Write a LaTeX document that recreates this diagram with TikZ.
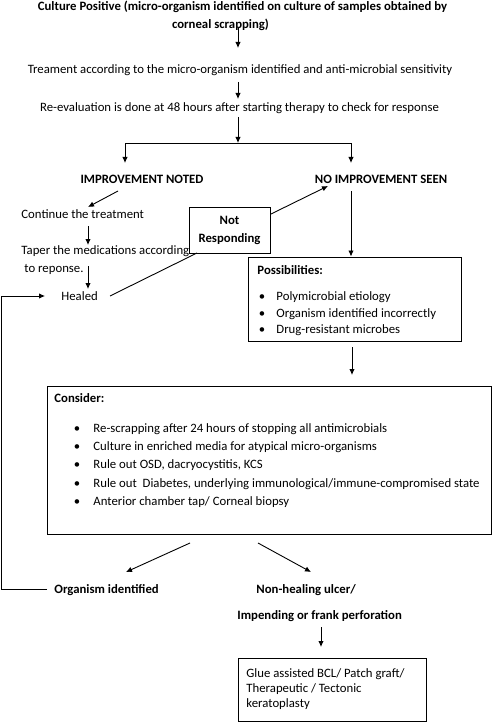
\documentclass[tikz,border=0pt]{standalone}
\usepackage{fontspec}
\setmainfont{Carlito}
\usetikzlibrary{arrows.meta}
\begin{document}
\begin{tikzpicture}[x=1pt,y=-1pt,line width=0.9pt,
  txt/.style={inner sep=0pt,font=\fontsize{12.75}{18}\selectfont},
  btxt/.style={inner sep=0pt,font=\fontsize{12.75}{18}\selectfont\bfseries},
  arr/.style={-{Latex[length=6pt,width=5.5pt]}},
  boxed/.style={draw,line width=1pt,inner sep=0pt}]
\useasboundingbox (0,0) rectangle (492,722);
% texts
\node[btxt,anchor=base] (t1) at (242.5,11) {Culture Positive (micro-organism identified on culture of samples obtained by};
\node[btxt,anchor=base] (t2) at (220.5,29) {corneal scrapping)};
\node[txt,anchor=base] (treat) at (240,74) {Treament according to the micro-organism identified and anti-microbial sensitivity};
\node[txt,anchor=base] (reeval) at (239.5,112) {Re-evaluation is done at 48 hours after starting therapy to check for response};
\node[btxt,anchor=base] (imp) at (142,183) {IMPROVEMENT NOTED};
\node[btxt,anchor=base] (noimp) at (381,183) {NO IMPROVEMENT SEEN};
\node[txt,anchor=base west] (cont) at (21,218) {Continue the treatment};
\node[txt,anchor=base west] (taper1) at (21,254) {Taper the medications according};
\node[txt,anchor=base west] (taper2) at (24,272) {to reponse.};
\node[txt,anchor=base west] (healed) at (61,300) {Healed};
\node[boxed,btxt,draw,line width=1pt,align=center,minimum width=81pt,minimum height=46pt] (notresp) at (229.5,230) {Not\\Responding};
% possibilities box
\node[boxed,minimum width=213pt,minimum height=84pt] (poss) at (354.5,299) {};
\node[btxt,anchor=base west] (posst) at (257,274) {Possibilities:};
\foreach \y/\t [count=\i] in {296/{Polymicrobial etiology},313/{Organism identified incorrectly},329/{Drug-resistant microbes}}{
  \node[txt,anchor=base] (pb\i) at (262,\y+4) {\textbullet};
  \node[txt,anchor=base west] (pi\i) at (276,\y+4) {\t};
}
% consider box
\node[boxed,minimum width=444pt,minimum height=148pt] (cons) at (269,460) {};
\node[btxt,anchor=base west] (const) at (54,402) {Consider:};
\foreach \y/\t [count=\i] in {428/{Re-scrapping after 24 hours of stopping all antimicrobials},446/{Culture in enriched media for atypical micro-organisms},464/{Rule out OSD, dacryocystitis, KCS},483/{Rule out\ \ Diabetes, underlying immunological/immune-compromised state},501/{Anterior chamber tap/ Corneal biopsy}}{
  \node[txt,anchor=base] (cb\i) at (77,\y+4) {\textbullet};
  \node[txt,anchor=base west] (ci\i) at (93,\y+4) {\t};
}
\node[btxt,anchor=base west] (orgid) at (54,593) {Organism identified};
\node[btxt,anchor=base west] (nonheal) at (256,593) {Non-healing ulcer/};
\node[btxt,anchor=base west] (impend) at (237,619) {Impending or frank perforation};
\node[boxed,minimum width=188pt,minimum height=63pt] (glue) at (332,690) {};
\node[txt,anchor=base west] (g1) at (246,677) {Glue assisted BCL/ Patch graft/};
\node[txt,anchor=base west] (g2) at (246,692) {Therapeutic / Tectonic};
\node[txt,anchor=base west] (g3) at (246,707) {keratoplasty};
% connector coordinates
\coordinate (a1s) at (238,28); \coordinate (a1e) at (238,48);
\coordinate (a2s) at (238,82); \coordinate (a2e) at (238,99);
\coordinate (a3s) at (238,117); \coordinate (split) at (238,143);
\coordinate (impin) at (125,163); \coordinate (noin) at (351,163);
\coordinate (a4s) at (118,191); \coordinate (a4e) at (88,207);
\coordinate (a5s) at (88,226); \coordinate (a5e) at (88,245);
\coordinate (a6s) at (88,266); \coordinate (a6e) at (88,289);
\coordinate (hs) at (110,296); \coordinate (nrin) at (197,253);
\coordinate (nrout) at (271,214); \coordinate (noarr) at (328,186);
\coordinate (a8s) at (351,191);
\coordinate (a9s) at (352,347); \coordinate (a9e) at (352,375);
\coordinate (l1s) at (190,543); \coordinate (l1e) at (126,572);
\coordinate (r1s) at (258,543); \coordinate (r1e) at (311,572);
\coordinate (a12s) at (321,627); \coordinate (a12e) at (321,647);
\coordinate (fbs) at (47,589); \coordinate (fbe) at (45,296);
% connectors
\draw[arr] (a1s) -- (a1e);
\draw[arr] (a2s) -- (a2e);
\draw[arr] (a3s) -- (split);
\draw[arr] (split) -| (impin);
\draw[arr] (split) -| (noin);
\draw[arr] (a4s) -- (a4e);
\draw[arr] (a5s) -- (a5e);
\draw[arr] (a6s) -- (a6e);
\draw (hs) -- (nrin);
\draw[arr] (nrout) -- (noarr);
\draw[arr] (a8s) -- (a8s |- poss.north);
\draw[arr] (a9s) -- (a9e);
\draw[arr] (l1s) -- (l1e);
\draw[arr] (r1s) -- (r1e);
\draw[arr] (a12s) -- (a12e);
\draw[arr] (fbs) -- (1.5,589) -- (1.5,296) -- (fbe);
\end{tikzpicture}
\end{document}
